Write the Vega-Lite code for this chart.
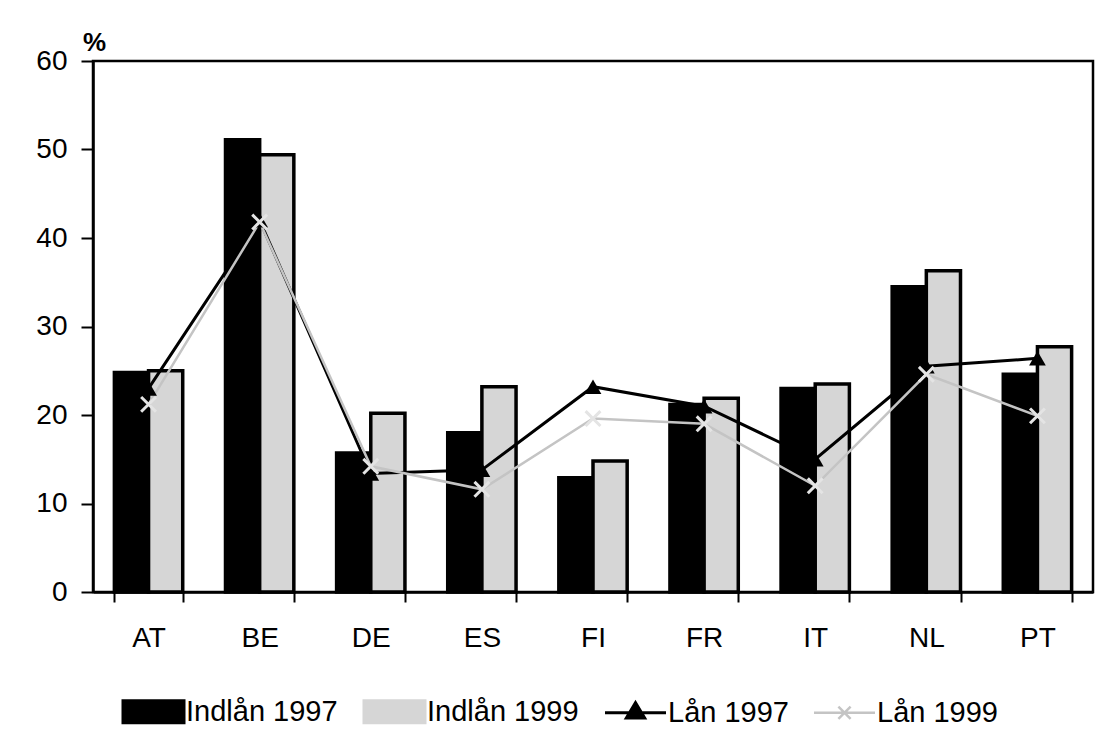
{
  "$schema": "https://vega.github.io/schema/vega-lite/v6.json",
  "autosize": {"type": "none"},
  "width": 1000,
  "height": 531,
  "padding": {"left": 93, "top": 61, "right": 11, "bottom": 148},
  "background": "white",
  "config": {
    "font": "Liberation Sans",
    "view": {"stroke": "black", "strokeWidth": 2.5},
    "axis": {"domainColor": "black", "domainWidth": 2.5, "tickColor": "black", "tickWidth": 2, "labelColor": "black", "labelFont": "Liberation Sans", "labelFontSize": 28, "grid": false}
  },
  "data": {
    "values": [
      {"country": "AT", "series": "Indlån 1997", "value": 24.8},
      {"country": "BE", "series": "Indlån 1997", "value": 51.1},
      {"country": "DE", "series": "Indlån 1997", "value": 15.7},
      {"country": "ES", "series": "Indlån 1997", "value": 18.0},
      {"country": "FI", "series": "Indlån 1997", "value": 12.9},
      {"country": "FR", "series": "Indlån 1997", "value": 21.2},
      {"country": "IT", "series": "Indlån 1997", "value": 23.0},
      {"country": "NL", "series": "Indlån 1997", "value": 34.5},
      {"country": "PT", "series": "Indlån 1997", "value": 24.6},
      {"country": "AT", "series": "Indlån 1999", "value": 25.0},
      {"country": "BE", "series": "Indlån 1999", "value": 49.4},
      {"country": "DE", "series": "Indlån 1999", "value": 20.2},
      {"country": "ES", "series": "Indlån 1999", "value": 23.2},
      {"country": "FI", "series": "Indlån 1999", "value": 14.8},
      {"country": "FR", "series": "Indlån 1999", "value": 21.9},
      {"country": "IT", "series": "Indlån 1999", "value": 23.5},
      {"country": "NL", "series": "Indlån 1999", "value": 36.3},
      {"country": "PT", "series": "Indlån 1999", "value": 27.7},
      {"country": "AT", "series": "Lån 1997", "value": 23.0},
      {"country": "BE", "series": "Lån 1997", "value": 42.0},
      {"country": "DE", "series": "Lån 1997", "value": 13.4},
      {"country": "ES", "series": "Lån 1997", "value": 13.8},
      {"country": "FI", "series": "Lån 1997", "value": 23.2},
      {"country": "FR", "series": "Lån 1997", "value": 21.0},
      {"country": "IT", "series": "Lån 1997", "value": 15.0},
      {"country": "NL", "series": "Lån 1997", "value": 25.5},
      {"country": "PT", "series": "Lån 1997", "value": 26.4},
      {"country": "AT", "series": "Lån 1999", "value": 21.2},
      {"country": "BE", "series": "Lån 1999", "value": 41.8},
      {"country": "DE", "series": "Lån 1999", "value": 14.2},
      {"country": "ES", "series": "Lån 1999", "value": 11.6},
      {"country": "FI", "series": "Lån 1999", "value": 19.6},
      {"country": "FR", "series": "Lån 1999", "value": 19.0},
      {"country": "IT", "series": "Lån 1999", "value": 12.0},
      {"country": "NL", "series": "Lån 1999", "value": 24.6},
      {"country": "PT", "series": "Lån 1999", "value": 19.9}
    ]
  },
  "encoding": {
    "x": {
      "field": "country", "type": "nominal", "sort": null,
      "scale": {"paddingInner": 0.385, "paddingOuter": 0.1925},
      "axis": {"title": null, "labelAngle": 0, "tickBand": "extent", "tickSize": 10, "labelPadding": 22, "labelFontSize": 28}
    },
    "y": {
      "field": "value", "type": "quantitative",
      "scale": {"domain": [0, 60], "nice": false},
      "axis": {"values": [0, 10, 20, 30, 40, 50, 60], "tickSize": 12, "labelPadding": 14, "labelFontSize": 28, "title": "%", "titleAngle": 0, "titleAlign": "center", "titleBaseline": "alphabetic", "titleX": 1, "titleY": -11, "titleFont": "Liberation Sans", "titleFontSize": 26, "titleFontWeight": "bold", "titleColor": "black"}
    }
  },
  "layer": [
    {
      "transform": [{"filter": "indexof(datum.series, 'Indlån') === 0"}],
      "mark": {"type": "bar", "stroke": "black", "strokeWidth": 3.5},
      "encoding": {
        "xOffset": {"field": "series", "type": "nominal", "sort": ["Indlån 1997", "Indlån 1999"]},
        "color": {
          "field": "series", "type": "nominal",
          "scale": {"domain": ["Indlån 1997", "Indlån 1999", "Lån 1997", "Lån 1999"], "range": ["#000000", "#d6d6d6", "#000000", "#c4c4c4"]},
          "legend": {
            "title": null, "orient": "none", "legendX": 46, "legendY": 636, "direction": "horizontal", "columns": 4,
            "columnPadding": 20, "padding": 0, "symbolSize": 3721, "symbolType": "M-1,-0.36H1V0.36H-1Z",
            "labelOffset": 18, "labelFont": "Liberation Sans", "labelFontSize": 29, "labelColor": "black", "labelLimit": 400,
            "encoding": {
              "symbols": {
                "shape": {"value": {"expr": "datum.value === 'Lån 1997' ? 'M-1,0H1M-0.3,0.17L0,-0.33L0.3,0.17Z' : (datum.value === 'Lån 1999' ? 'M-1,0H1M-0.2,-0.2L0.2,0.2M-0.2,0.2L0.2,-0.2' : 'M-1,-0.36H1V0.36H-1Z')"}},
                "stroke": {"value": {"expr": "datum.value === 'Lån 1999' ? '#b0b0b0' : '#000000'"}},
                "strokeWidth": {"value": {"expr": "datum.value === 'Lån 1999' ? 2.5 : 3"}},
                "opacity": {"value": 1},
                "fillOpacity": {"value": 1},
                "strokeOpacity": {"value": 1}
              }
            }
          }
        }
      }
    },
    {
      "transform": [{"filter": "datum.series === 'Lån 1997'"}],
      "mark": {"type": "line", "strokeWidth": 3},
      "encoding": {"color": {"field": "series", "type": "nominal"}}
    },
    {
      "transform": [{"filter": "datum.series === 'Lån 1999'"}],
      "mark": {"type": "line", "strokeWidth": 2.5},
      "encoding": {"color": {"field": "series", "type": "nominal"}}
    },
    {
      "transform": [{"filter": "datum.series === 'Lån 1997'"}],
      "mark": {"type": "point", "shape": "triangle-up", "size": 280, "filled": true, "color": "black", "opacity": 1},
      "encoding": {}
    },
    {
      "transform": [{"filter": "datum.series === 'Lån 1999'"}],
      "mark": {"type": "point", "shape": "M-1,-1L1,1M-1,1L1,-1", "size": 220, "filled": false, "stroke": "#e4e4e4", "strokeWidth": 3, "opacity": 1},
      "encoding": {}
    }
  ]
}
